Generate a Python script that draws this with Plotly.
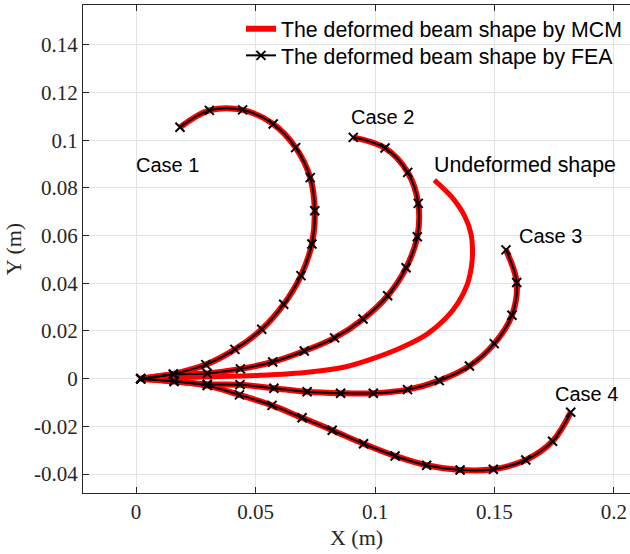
import plotly.graph_objects as go

# Beam centre-line coordinates (m), listed from the clamped end to the tip
case1_x = [0.002, 0.0156, 0.0292, 0.0414, 0.0526, 0.0618, 0.0690, 0.0736, 0.0748, 0.0729, 0.0668, 0.0574, 0.0446, 0.0307, 0.0184]
case1_y = [0.0, 0.0020, 0.0059, 0.0123, 0.0207, 0.0312, 0.0432, 0.0565, 0.0704, 0.0843, 0.0969, 0.1068, 0.1127, 0.1125, 0.1054]

case2_x = [0.002, 0.0157, 0.0298, 0.0437, 0.0572, 0.0704, 0.0831, 0.0950, 0.1053, 0.1130, 0.1177, 0.1181, 0.1137, 0.1042, 0.0909]
case2_y = [0.0, 0.0018, 0.0022, 0.0041, 0.0070, 0.0116, 0.0171, 0.0250, 0.0348, 0.0465, 0.0595, 0.0735, 0.0865, 0.0967, 0.1012]

case3_x = [0.002, 0.0160, 0.0298, 0.0435, 0.0577, 0.0716, 0.0856, 0.0993, 0.1136, 0.1269, 0.1395, 0.1499, 0.1573, 0.1593, 0.1548]
case3_y = [0.0, -0.0010, -0.0023, -0.0025, -0.0040, -0.0055, -0.0061, -0.0061, -0.0046, -0.0008, 0.0053, 0.0147, 0.0266, 0.0403, 0.0540]

case4_x = [0.002, 0.0159, 0.0298, 0.0433, 0.0569, 0.0695, 0.0821, 0.0952, 0.1084, 0.1216, 0.1356, 0.1495, 0.1631, 0.1743, 0.1819]
case4_y = [0.0, -0.0012, -0.0029, -0.0068, -0.0112, -0.0164, -0.0216, -0.0273, -0.0324, -0.0363, -0.0383, -0.0380, -0.0341, -0.0262, -0.0141]

undeformed_x = [0.002, 0.0268, 0.0519, 0.0728, 0.0874, 0.1000, 0.1125, 0.1218, 0.1293, 0.1347, 0.1385, 0.1404, 0.1408, 0.1402, 0.1377, 0.1321, 0.1248]
undeformed_y = [0.0, 0.0007, 0.0014, 0.0028, 0.0049, 0.0087, 0.0137, 0.0187, 0.0250, 0.0317, 0.0392, 0.0472, 0.0539, 0.0606, 0.0678, 0.0762, 0.0833]

cases = [(case1_x, case1_y), (case2_x, case2_y), (case3_x, case3_y), (case4_x, case4_y)]

case_labels = ["Case 1", "Case 2", "Case 3", "Case 4"]
label_x = [-0.0009, 0.0893, 0.1594, 0.1744]
label_y = [0.0895, 0.1097, 0.0599, -0.0063]
shape_label = "Undeformed shape"
shape_label_x = 0.1238
shape_label_y = 0.0895

x_ticks = [0, 0.05, 0.1, 0.15, 0.2]
x_tick_text = ["0", "0.05", "0.1", "0.15", "0.2"]
y_ticks = [-0.04, -0.02, 0, 0.02, 0.04, 0.06, 0.08, 0.1, 0.12, 0.14]
y_tick_text = ["-0.04", "-0.02", "0", "0.02", "0.04", "0.06", "0.08", "0.1", "0.12", "0.14"]

RED = "#ff0000"
AX = "#262626"
SANS = "Liberation Sans, Arial, sans-serif"
SERIF = "Liberation Serif, Times New Roman, serif"

fig = go.Figure()

# MCM curves (thick red)
for i, (cx, cy) in enumerate(cases):
    fig.add_trace(go.Scatter(
        x=cx, y=cy, mode="lines", line=dict(color=RED, width=6, shape="spline"),
        name="The deformed beam shape by MCM", showlegend=(i == 0),
        legend="legend"))

# undeformed beam
fig.add_trace(go.Scatter(
    x=undeformed_x, y=undeformed_y, mode="lines",
    line=dict(color=RED, width=5, shape="spline"), showlegend=False))

# FEA curves (black with x markers)
for i, (cx, cy) in enumerate(cases):
    fig.add_trace(go.Scatter(
        x=cx, y=cy, mode="lines+markers",
        line=dict(color="black", width=2, shape="spline"),
        marker=dict(symbol="x-thin", size=9, color="black",
                    line=dict(color="black", width=2)),
        name="The deformed beam shape by FEA", showlegend=(i == 0),
        legend="legend2"))

for txt, lx, ly in zip(case_labels, label_x, label_y):
    fig.add_annotation(x=lx, y=ly, text=txt, showarrow=False,
                       xanchor="left", yanchor="middle",
                       font=dict(family=SANS, size=20, color="black"))
fig.add_annotation(x=shape_label_x, y=shape_label_y, text=shape_label, showarrow=False,
                   xanchor="left", yanchor="middle",
                   font=dict(family=SANS, size=21.4, color="black"))

legend_style = dict(xanchor="left", yanchor="top", bgcolor="rgba(0,0,0,0)",
                    borderwidth=0, itemwidth=30,
                    font=dict(family=SANS, size=21.3, color="black"))

fig.update_layout(
    width=630, height=554,
    margin=dict(l=83, r=0, t=5, b=61),
    paper_bgcolor="white", plot_bgcolor="white",
    showlegend=True,
    legend=dict(x=0.2888, y=0.9930, **legend_style),
    legend2=dict(x=0.2888, y=0.9385, **legend_style),
    xaxis=dict(range=[-0.02218, 0.2067], tickvals=x_ticks, ticktext=x_tick_text,
               showgrid=True, gridcolor="#e3e3e3", gridwidth=1, zeroline=False,
               showline=True, linecolor=AX, linewidth=1, mirror="ticks",
               ticks="inside", ticklen=6, tickcolor=AX,
               tickfont=dict(family=SERIF, size=21, color=AX),
               title=dict(text="X (m)", font=dict(family=SERIF, size=22, color=AX), standoff=6)),
    yaxis=dict(range=[-0.04793, 0.15669], tickvals=y_ticks, ticktext=y_tick_text,
               showgrid=True, gridcolor="#e3e3e3", gridwidth=1, zeroline=False,
               showline=True, linecolor=AX, linewidth=1,
               ticks="inside", ticklen=6, tickcolor=AX,
               tickfont=dict(family=SERIF, size=21, color=AX),
               title=dict(text="Y (m)", font=dict(family=SERIF, size=22, color=AX), standoff=6)),
)

fig.write_html("out.html")
